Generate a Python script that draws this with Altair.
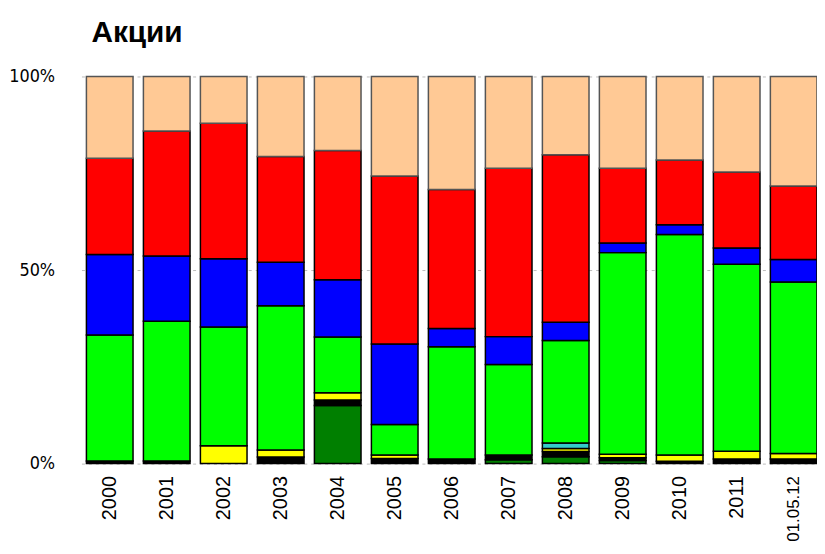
import altair as alt
import pandas as pd

categories = ["2000", "2001", "2002", "2003", "2004", "2005", "2006",
              "2007", "2008", "2009", "2010", "2011", "01.05.12"]

# series, bottom to top (percent shares)
dark_green = [0, 0, 0, 0, 15.0, 0, 0, 1.0, 1.8, 0.8, 0, 0, 0]
black      = [0.7, 0.7, 0, 1.7, 1.4, 1.3, 1.2, 1.2, 1.3, 0.7, 0.6, 1.2, 1.2]
yellow     = [0, 0, 4.6, 1.8, 1.9, 0.9, 0, 0, 0.8, 0.9, 1.6, 2.0, 1.4]
cyan       = [0, 0, 0, 0, 0, 0, 0, 0, 1.4, 0, 0, 0, 0]
green      = [32.5, 36.1, 30.7, 37.3, 14.4, 7.9, 29.0, 23.4, 26.5, 52.1, 57.0, 48.3, 44.3]
blue       = [20.8, 16.8, 17.6, 11.2, 14.8, 20.8, 4.7, 7.2, 4.7, 2.5, 2.5, 4.2, 5.8]
red        = [24.9, 32.3, 35.0, 27.3, 33.4, 43.4, 35.9, 43.5, 43.3, 19.3, 16.7, 19.6, 19.0]
peach      = [21.1, 14.1, 12.1, 20.7, 19.1, 25.7, 29.2, 23.7, 20.2, 23.7, 21.6, 24.7, 28.3]

series_names = ["dark_green", "black", "yellow", "cyan", "green", "blue", "red", "peach"]
series_values = [dark_green, black, yellow, cyan, green, blue, red, peach]
fill_colors = ["#007F00", "#000000", "#FFFF00", "#33CCCC", "#00FF00", "#0000FF", "#FF0000", "#FFC995"]
stroke_colors = ["#000000", "#000000", "#000000", "#000000", "#000000", "#000000", "#000000", "#555555"]

rows = []
for si, (name, vals) in enumerate(zip(series_names, series_values)):
    for cat, v in zip(categories, vals):
        if v > 0:
            rows.append({"cat": cat, "series": name, "order": si, "value": v})
df = pd.DataFrame(rows)

chart = alt.Chart(df).mark_bar(strokeWidth=1.5).encode(
    x=alt.X("cat:N", sort=categories,
            scale=alt.Scale(paddingInner=0.182, paddingOuter=0.0435, align=1),
            axis=alt.Axis(title=None, labelAngle=-90,
                          labelFontSize={"condition": {"test": "datum.value == '01.05.12'", "value": 17}, "value": 20},
                          labelFont="Liberation Sans", labelColor="#000000",
                          labelPadding=12, ticks=False, domain=False)),
    y=alt.Y("value:Q", stack="normalize",
            scale=alt.Scale(domain=[0, 1], nice=False),
            axis=alt.Axis(title=None, values=[0, 0.5, 1], format=".0%",
                          labelFontSize=18,
                          labelFont="DejaVu Sans Condensed, Liberation Sans Narrow, Arial Narrow, Liberation Sans",
                          labelColor="#000000", labelPadding=27, ticks=False,
                          domain=False, grid=True, gridColor="#bbbbbb",
                          gridDash=[3, 4], gridWidth=1)),
    fill=alt.Fill("series:N", scale=alt.Scale(domain=series_names, range=fill_colors), legend=None),
    stroke=alt.Stroke("series:N", scale=alt.Scale(domain=series_names, range=stroke_colors), legend=None),
    order=alt.Order("order:Q", sort="ascending"),
).properties(
    width=741,
    height=390,
    autosize=alt.AutoSizeParams(type="none"),
    padding={"left": 74, "top": 67, "right": 0, "bottom": 79},
    title=alt.TitleParams("Акции", anchor="start", frame="group", dx=10,
                          fontSize=30, fontWeight="bold", font="Liberation Sans",
                          color="#000000", offset=20),
).configure_view(stroke=None)

chart.save("out.html", embed_options={"renderer": "svg", "actions": False})
